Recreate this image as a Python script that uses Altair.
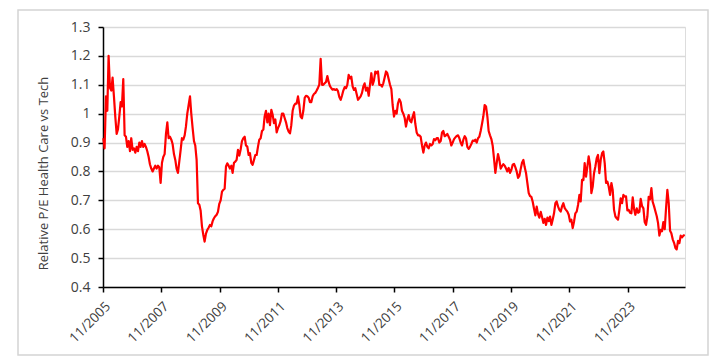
import altair as alt
import pandas as pd

# Relative P/E, Health Care vs Tech (~2-3 week spacing)
ratio_2005_2008 = [0.915, 0.88, 1.06, 1.01, 1.2, 1.09, 1.08, 1.125, 1.06, 0.99, 0.93, 0.945, 0.99, 1.04,
                   1.025, 1.12, 0.925, 0.92, 0.885, 0.905, 0.87, 0.915, 0.875, 0.88, 0.865, 0.885, 0.87, 0.9,
                   0.885, 0.905, 0.885, 0.895, 0.885, 0.87, 0.85, 0.825, 0.81, 0.8, 0.81, 0.82, 0.81, 0.82,
                   0.815, 0.76, 0.83, 0.85, 0.86, 0.93, 0.97, 0.915, 0.92, 0.91, 0.895, 0.86]
ratio_2008_2010 = [0.84, 0.81, 0.795, 0.835, 0.875, 0.915, 0.91, 0.925, 0.955, 1.0, 1.03, 1.06, 1.0, 0.95,
                   0.905, 0.89, 0.84, 0.69, 0.685, 0.665, 0.61, 0.58, 0.557, 0.585, 0.598, 0.605, 0.615, 0.61,
                   0.628, 0.638, 0.645, 0.65, 0.66, 0.688, 0.7, 0.73, 0.736, 0.74, 0.817, 0.828, 0.82, 0.81,
                   0.82, 0.795, 0.83, 0.834, 0.84, 0.875, 0.855, 0.875, 0.905, 0.915, 0.92, 0.89, 0.886, 0.857]
ratio_2010_2013 = [0.863, 0.83, 0.823, 0.84, 0.857, 0.857, 0.886, 0.91, 0.915, 0.94, 0.945, 0.99, 1.01, 0.97,
                   1.0, 0.96, 1.013, 0.996, 0.967, 0.98, 0.935, 0.95, 0.96, 0.975, 1.0, 1.0, 0.985, 0.97,
                   0.95, 0.938, 0.932, 0.96, 1.01, 1.028, 1.035, 1.035, 1.06, 1.03, 0.99, 0.984, 1.01, 1.055,
                   1.062, 1.06, 1.055, 1.04, 1.04, 1.06, 1.068, 1.072, 1.08, 1.09, 1.1, 1.19, 1.1, 1.1, 1.105]
ratio_2013_2015 = [1.11, 1.13, 1.11, 1.095, 1.088, 1.083, 1.085, 1.082, 1.085, 1.078, 1.058, 1.048, 1.062, 1.08,
                   1.092, 1.088, 1.1, 1.134, 1.122, 1.128, 1.094, 1.082, 1.088, 1.068, 1.048, 1.054, 1.06, 1.072,
                   1.094, 1.105, 1.08, 1.09, 1.062, 1.1, 1.14, 1.1, 1.115, 1.146, 1.14, 1.146, 1.1, 1.1,
                   1.094, 1.105, 1.125, 1.146, 1.14, 1.12, 1.1, 1.085, 1.03, 0.99, 1.01, 1.0, 1.036, 1.05]
ratio_2015_2018 = [1.04, 1.01, 1.0, 0.985, 0.955, 0.98, 0.995, 0.975, 0.97, 0.99, 1.005, 0.965, 0.935, 0.925,
                   0.925, 0.92, 0.89, 0.865, 0.89, 0.9, 0.885, 0.88, 0.895, 0.89, 0.895, 0.912, 0.908, 0.915,
                   0.915, 0.9, 0.905, 0.935, 0.94, 0.922, 0.925, 0.93, 0.92, 0.91, 0.89, 0.9, 0.912, 0.918,
                   0.923, 0.925, 0.915, 0.9, 0.89, 0.91, 0.922, 0.915, 0.885, 0.878, 0.885, 0.895, 0.907, 0.905]
ratio_2018_2020 = [0.91, 0.9, 0.915, 0.92, 0.94, 0.965, 0.99, 1.03, 1.025, 0.99, 0.94, 0.925, 0.912, 0.89,
                   0.845, 0.795, 0.83, 0.86, 0.84, 0.81, 0.818, 0.825, 0.82, 0.81, 0.8, 0.812, 0.795, 0.805,
                   0.823, 0.826, 0.815, 0.8, 0.778, 0.785, 0.808, 0.83, 0.84, 0.815, 0.795, 0.76, 0.725, 0.715,
                   0.712, 0.695, 0.672, 0.648, 0.678, 0.652, 0.64, 0.66, 0.642, 0.622, 0.636, 0.615, 0.64, 0.628]
ratio_2020_2023 = [0.644, 0.615, 0.633, 0.655, 0.69, 0.696, 0.679, 0.667, 0.661, 0.679, 0.69, 0.673, 0.667, 0.661,
                   0.65, 0.627, 0.633, 0.604, 0.627, 0.655, 0.661, 0.684, 0.719, 0.696, 0.771, 0.77, 0.829, 0.782,
                   0.817, 0.852, 0.823, 0.725, 0.748, 0.794, 0.817, 0.846, 0.857, 0.794, 0.84, 0.863, 0.869, 0.829,
                   0.76, 0.765, 0.748, 0.719, 0.76, 0.736, 0.667, 0.644, 0.638, 0.633, 0.667, 0.707, 0.69, 0.719, 0.713]
ratio_2023_2025 = [0.714, 0.665, 0.667, 0.657, 0.655, 0.71, 0.67, 0.65, 0.672, 0.657, 0.66, 0.705, 0.68, 0.672,
                   0.625, 0.615, 0.645, 0.712, 0.703, 0.742, 0.695, 0.68, 0.662, 0.645, 0.622, 0.578, 0.598, 0.593,
                   0.625, 0.6, 0.675, 0.736, 0.69, 0.595, 0.586, 0.565, 0.553, 0.535, 0.53, 0.56, 0.552, 0.578,
                   0.572, 0.578, 0.58]

first_date = "2005-11-05"
last_date = "2025-10-16"
tick_years = [2005, 2007, 2009, 2011, 2013, 2015, 2017, 2019, 2021, 2023]
y_ticks = [0.4, 0.5, 0.6, 0.7, 0.8, 0.9, 1.0, 1.1, 1.2, 1.3]
y_title = "Relative P/E Health Care vs Tech"

values = (ratio_2005_2008 + ratio_2008_2010 + ratio_2010_2013 + ratio_2013_2015
          + ratio_2015_2018 + ratio_2018_2020 + ratio_2020_2023 + ratio_2023_2025)
dates = pd.date_range(first_date, last_date, periods=len(values))
df = pd.DataFrame({"date": dates.strftime("%Y-%m-%d"), "ratio": values})

FONT = "Open Sans"
TXT = "#404040"

x_enc = alt.X(
    "date:T",
    scale=alt.Scale(domain=[alt.DateTime(year=2005, month=11, date=1),
                            alt.DateTime(year=2025, month=10, date=19)]),
    axis=alt.Axis(values=[alt.DateTime(year=y, month=11, date=1) for y in tick_years],
                  format="%m/%Y", labelAngle=-45, grid=False, title=None,
                  domainColor="#000000", domainWidth=1.5, tickColor="#000000", tickWidth=1.5,
                  tickSize=5, labelFontSize=13.5, labelColor=TXT, labelFont=FONT, labelPadding=7),
)
y_enc = alt.Y(
    "ratio:Q",
    scale=alt.Scale(domain=[0.4, 1.3], nice=False, zero=False),
    axis=alt.Axis(values=y_ticks, format="~g", title=y_title, titleFont=FONT, titleFontSize=13,
                  titleFontWeight="normal", titleColor=TXT, titlePadding=20, titleY=146,
                  labelFont=FONT, labelFontSize=14, labelColor=TXT, labelPadding=8,
                  domainColor="#000000", domainWidth=1.5, tickColor="#000000", tickWidth=1.5, tickSize=5,
                  gridColor="#d9d9d9", gridWidth=1.5),
)

line = alt.Chart(df).mark_line(color="#ff0000", strokeWidth=2.2, strokeJoin="round").encode(x=x_enc, y=y_enc)

frame = alt.Chart(pd.DataFrame({"k": [0]})).mark_rect(
    fill=None, stroke="#d4d4d4", strokeWidth=1.5, clip=False
).encode(x=alt.value(-85), x2=alt.value(605), y=alt.value(-17), y2=alt.value(328))

chart = alt.layer(line, frame).properties(
    width=582, height=260,
    padding={"left": 103, "top": 27, "right": 37, "bottom": 72},
    autosize=alt.AutoSizeParams(type="none"),
).configure_view(stroke=None).configure(background="#ffffff")

chart.save("out.html", embed_options={"renderer": "svg", "actions": False})
